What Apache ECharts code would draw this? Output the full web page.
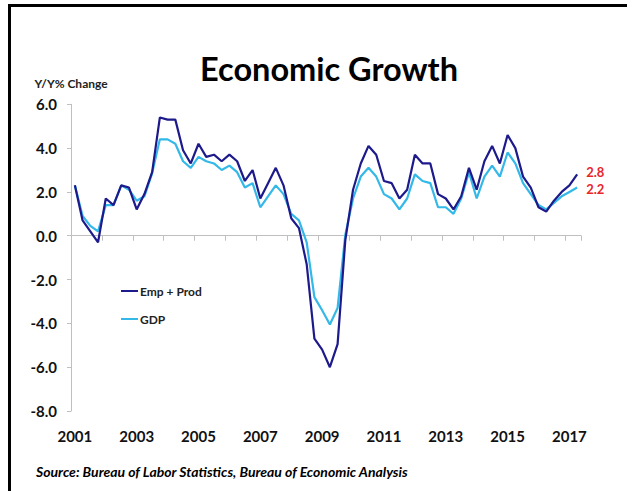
<!DOCTYPE html>
<html>
<head>
<meta charset="utf-8">
<script src="https://cdn.jsdelivr.net/npm/echarts@6/dist/echarts.min.js"></script>
<style>
html,body{margin:0;padding:0;background:#fff;}
#chart{width:635px;height:491px;}
</style>
</head>
<body>
<div id="chart"></div>
<script>
// Quarterly categories 2001Q1 .. 2017Q2
var years = [2001,2002,2003,2004,2005,2006,2007,2008,2009,2010,2011,2012,2013,2014,2015,2016,2017];
var categories = [];
years.forEach(function(y){ [1,2,3,4].forEach(function(q){ if (y < 2017 || q <= 2) categories.push(y + 'Q' + q); }); });

var empProd = [2.3,0.7,0.2,-0.3,1.7,1.4,2.3,2.2,1.2,1.9,2.9,5.4,5.3,5.3,3.9,3.3,4.2,3.6,3.7,3.4,3.7,3.4,2.5,3.0,1.7,2.4,3.1,2.3,0.8,0.35,-1.3,-4.7,-5.2,-6.0,-4.95,-0.2,2.1,3.3,4.1,3.7,2.5,2.4,1.7,2.1,3.7,3.3,3.3,1.9,1.7,1.2,1.8,3.1,2.1,3.4,4.1,3.3,4.6,4.0,2.7,2.2,1.3,1.1,1.6,2.0,2.3,2.8];
var gdp = [2.3,0.9,0.45,0.2,1.4,1.4,2.3,2.1,1.6,1.8,2.85,4.4,4.4,4.2,3.4,3.1,3.6,3.4,3.3,3.0,3.2,2.9,2.2,2.4,1.3,1.8,2.3,1.9,1.0,0.7,-0.3,-2.8,-3.4,-4.05,-3.3,0.05,1.7,2.7,3.1,2.7,1.9,1.7,1.2,1.7,2.8,2.5,2.4,1.3,1.3,1.0,1.7,2.9,1.7,2.7,3.2,2.7,3.8,3.3,2.4,1.9,1.4,1.2,1.5,1.8,2.0,2.2];

var yMin = -8, yMax = 6, yStep = 2;
var FONT = 'Lato, "Open Sans", sans-serif';

var chart = echarts.init(document.getElementById('chart'), null, {renderer: 'svg'});
chart.setOption({
  animation: false,
  backgroundColor: '#ffffff',
  graphic: [
    {type: 'rect', shape: {x: 8, y: 4, width: 619, height: 3}, style: {fill: '#000'}},
    {type: 'rect', shape: {x: 8, y: 4, width: 3, height: 487}, style: {fill: '#000'}},
    {type: 'text', x: 329, y: 68, style: {text: 'Economic Growth', font: 'bold 32.5px ' + FONT, fill: '#000', textAlign: 'center', textVerticalAlign: 'middle'}},
    {type: 'text', x: 36, y: 471, style: {text: 'Source: Bureau of Labor Statistics, Bureau of Economic Analysis', font: 'italic bold 14px ' + FONT, fill: '#000', textAlign: 'left', textVerticalAlign: 'middle'}}
  ],
  legend: {
    orient: 'vertical',
    left: 116,
    top: 279,
    itemWidth: 17,
    itemHeight: 2,
    itemGap: 14,
    icon: 'rect',
    textStyle: {fontFamily: FONT, fontWeight: 'bold', fontSize: 12, color: '#222', lineHeight: 14, padding: [0,0,0,-3]},
    data: ['Emp + Prod', 'GDP']
  },
  grid: {left: 71, right: 54, top: 104.3, bottom: 80},
  xAxis: [
    {
      type: 'category',
      data: categories,
      position: 'bottom',
      boundaryGap: true,
      axisLine: {onZero: true, lineStyle: {color: '#bfbfbf', width: 1}},
      axisTick: {show: true, interval: 3, length: 5, lineStyle: {color: '#bfbfbf'}},
      axisLabel: {show: false},
      splitLine: {show: false}
    },
    {
      type: 'category',
      data: categories,
      position: 'bottom',
      boundaryGap: true,
      axisLine: {show: false, onZero: false},
      axisTick: {show: false},
      axisLabel: {
        show: true, interval: 7, margin: 17,
        fontFamily: FONT, fontWeight: 'bold', fontSize: 15, color: '#111',
        formatter: function(v){ return v.slice(0,4); }
      },
      splitLine: {show: false}
    }
  ],
  yAxis: {
    type: 'value',
    min: yMin, max: yMax, interval: yStep,
    name: 'Y/Y% Change',
    nameLocation: 'end',
    nameGap: 15,
    nameTextStyle: {fontFamily: FONT, fontWeight: 'bold', fontSize: 12, color: '#222', align: 'center'},
    axisLine: {show: true, lineStyle: {color: '#bfbfbf'}},
    axisTick: {show: true, length: 4, lineStyle: {color: '#bfbfbf'}},
    axisLabel: {margin: 14, fontFamily: FONT, fontWeight: 'bold', fontSize: 15, color: '#111',
      formatter: function(v){ return v.toFixed(1); }},
    splitLine: {show: false}
  },
  series: [
    {
      name: 'Emp + Prod', type: 'line', xAxisIndex: 0, data: empProd,
      showSymbol: false, symbol: 'none',
      lineStyle: {color: '#1d1a8c', width: 2.2}, itemStyle: {color: '#1d1a8c'},
      endLabel: {show: true, distance: 9, formatter: function(p){ return p.value.toFixed(1); },
        color: '#e8262a', fontFamily: FONT, fontWeight: 'bold', fontSize: 13, offset: [0,-2]},
      z: 3
    },
    {
      name: 'GDP', type: 'line', xAxisIndex: 0, data: gdp,
      showSymbol: false, symbol: 'none',
      lineStyle: {color: '#33b8e8', width: 2.2}, itemStyle: {color: '#33b8e8'},
      endLabel: {show: true, distance: 9, formatter: function(p){ return p.value.toFixed(1); },
        color: '#e8262a', fontFamily: FONT, fontWeight: 'bold', fontSize: 13, offset: [0,1]},
      z: 2
    }
  ]
});
</script>
</body>
</html>
